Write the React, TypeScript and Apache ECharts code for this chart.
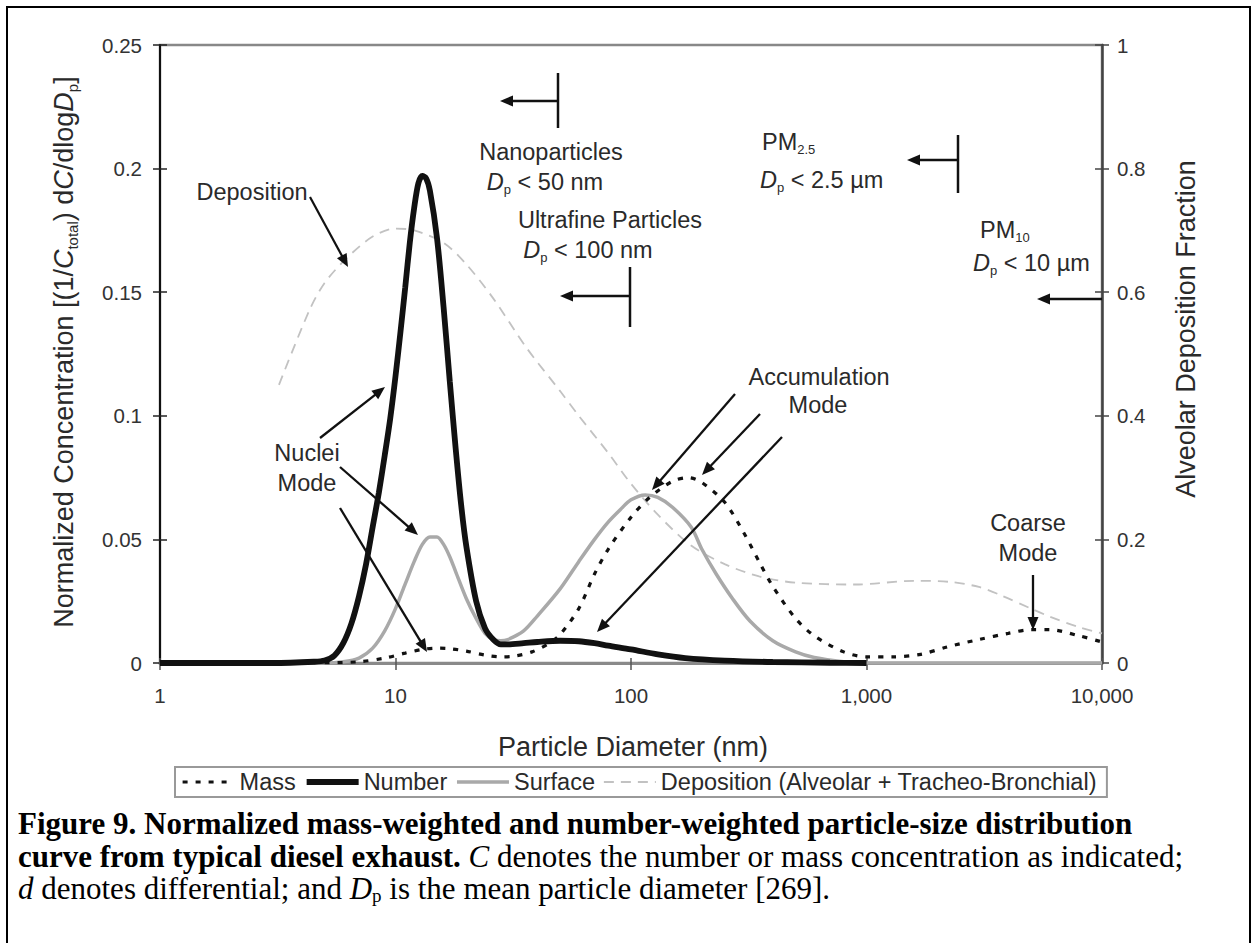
import React, { useEffect, useRef } from "react";
import * as echarts from "echarts";

// ---------- data ----------
const numberDiameter = [1, 3, 4.5, 5, 5.5, 6, 6.5, 7, 7.5, 8, 8.5, 9, 9.5, 10, 10.5, 11, 11.5, 12, 12.5, 13, 13.5, 14, 15, 16, 17, 18, 19, 20, 22, 24, 26, 28, 30, 35, 40, 50, 60, 70, 80, 100, 130, 170, 250, 400, 700, 1000];
const numberValue = [0, 0, 0.0005, 0.001, 0.003, 0.008, 0.016, 0.027, 0.04, 0.055, 0.069, 0.084, 0.099, 0.116, 0.134, 0.152, 0.17, 0.184, 0.194, 0.197, 0.196, 0.191, 0.172, 0.144, 0.114, 0.087, 0.064, 0.047, 0.025, 0.014, 0.0095, 0.0075, 0.0075, 0.008, 0.0085, 0.009, 0.0088, 0.008, 0.007, 0.0055, 0.0035, 0.002, 0.001, 0.0004, 0.0001, 0];

const surfaceDiameter = [1, 5, 6, 7, 8, 9, 10, 11, 12, 13, 14, 15, 16, 17, 18, 20, 22, 24, 26, 28, 30, 35, 40, 50, 60, 70, 80, 90, 100, 115, 130, 150, 180, 200, 230, 270, 320, 400, 500, 600, 800, 1000, 10000];
const surfaceValue = [0, 0, 0.0005, 0.002, 0.006, 0.013, 0.022, 0.032, 0.041, 0.048, 0.051, 0.051, 0.048, 0.043, 0.037, 0.026, 0.018, 0.012, 0.0095, 0.009, 0.0095, 0.013, 0.019, 0.03, 0.041, 0.05, 0.057, 0.062, 0.066, 0.068, 0.067, 0.063, 0.055, 0.046, 0.036, 0.026, 0.017, 0.009, 0.0045, 0.0022, 0.0005, 0, 0];

const massDiameter = [5, 7, 9, 11, 13, 15, 17, 20, 24, 28, 32, 38, 45, 50, 60, 70, 80, 100, 120, 150, 175, 200, 250, 300, 350, 400, 500, 600, 800, 1000, 1300, 1700, 2200, 3000, 4000, 5000, 6000, 8000, 10000];
const massValue = [0, 0.0005, 0.002, 0.004, 0.0055, 0.006, 0.0058, 0.0048, 0.0032, 0.0025, 0.0028, 0.0045, 0.008, 0.0115, 0.022, 0.036, 0.046, 0.059, 0.067, 0.0735, 0.075, 0.073, 0.065, 0.053, 0.041, 0.031, 0.018, 0.011, 0.0045, 0.0025, 0.0025, 0.0035, 0.0065, 0.0095, 0.012, 0.0135, 0.0135, 0.011, 0.0085];

const depositionDiameter = [3.2, 4.3, 5, 6.2, 8, 10, 12, 16, 20, 26, 36, 50, 60, 80, 100, 130, 180, 250, 350, 500, 900, 1600, 2300, 3000, 3700, 5000, 6000, 8000, 10000];
const depositionValue = [0.45, 0.57, 0.615, 0.655, 0.69, 0.703, 0.7, 0.68, 0.645, 0.59, 0.51, 0.44, 0.4, 0.34, 0.29, 0.24, 0.19, 0.16, 0.14, 0.13, 0.127, 0.133, 0.131, 0.123, 0.11, 0.088, 0.075, 0.058, 0.048];

const xTickValues = [1, 10, 100, 1000, 10000];
const xTickLabels = ["1", "10", "100", "1,000", "10,000"];

const seriesNames = ["Mass", "Number", "Surface", "Deposition (Alveolar + Tracheo-Bronchial)"];

// ---------- helpers ----------
const SANS = "'Liberation Sans', Arial, Helvetica, sans-serif";
const SERIF = "'Liberation Serif', 'Times New Roman', serif";
const TXT = "#2a2a2a";

const zip = (xs: number[], ys: number[]) => xs.map((x, i) => [x, ys[i]]);

const annRich = (fs: number) => ({
  n: { fontSize: fs, fontFamily: SANS, fill: TXT, lineHeight: 28 },
  i: { fontSize: fs, fontFamily: SANS, fontStyle: "italic", fill: TXT, lineHeight: 28 },
  s: { fontSize: Math.round(fs * 0.55), fontFamily: SANS, fill: TXT, verticalAlign: "bottom", lineHeight: 6 },
});

function label(x: number, y: number, text: string, align = "center", fs = 23.5) {
  return {
    type: "text",
    x,
    y,
    z: 100,
    style: {
      text,
      rich: annRich(fs),
      align,
      verticalAlign: "middle",
      fill: TXT,
    },
  };
}

function arrow(x1: number, y1: number, x2: number, y2: number, w = 2.3) {
  const a = Math.atan2(y2 - y1, x2 - x1);
  const head = 13;
  const hw = 5.5;
  const bx = x2 - head * Math.cos(a);
  const by = y2 - head * Math.sin(a);
  const px = -Math.sin(a) * hw;
  const py = Math.cos(a) * hw;
  return [
    { type: "line", z: 100, shape: { x1, y1, x2: bx + Math.cos(a) * 2, y2: by + Math.sin(a) * 2 }, style: { stroke: "#111", lineWidth: w } },
    {
      type: "polygon",
      z: 100,
      shape: { points: [[x2, y2], [bx + px, by + py], [bx - px, by - py]] },
      style: { fill: "#111" },
    },
  ];
}

function bar(x: number, y1: number, y2: number) {
  return { type: "line", z: 100, shape: { x1: x, y1, x2: x, y2 }, style: { stroke: "#111", lineWidth: 2.5 } };
}

export default function App() {
  const ref = useRef<HTMLDivElement>(null);

  useEffect(() => {
    if (!ref.current) return;
    const chart = echarts.init(ref.current, undefined, { renderer: "svg" });

    const xLabelFmt = (v: number) => {
      const idx = xTickValues.findIndex((t) => Math.abs(t - v) / t < 1e-6);
      return idx >= 0 ? xTickLabels[idx] : "";
    };

    const tickLabel = { fontSize: 20.5, fontFamily: SANS, color: "#333" };

    const CF = 31;
    const capRich = {
      b: { fontSize: CF, fontFamily: SERIF, fontWeight: "bold", fill: "#000", lineHeight: 34 },
      n: { fontSize: CF, fontFamily: SERIF, fill: "#000", lineHeight: 34 },
      i: { fontSize: CF, fontFamily: SERIF, fontStyle: "italic", fill: "#000", lineHeight: 34 },
      s: { fontSize: 19, fontFamily: SERIF, fill: "#000", verticalAlign: "bottom", lineHeight: 9 },
    };

    const titleRich = {
      n: { fontSize: 27, fontFamily: SANS, fill: TXT, lineHeight: 32 },
      i: { fontSize: 27, fontFamily: SANS, fontStyle: "italic", fill: TXT, lineHeight: 32 },
      s: { fontSize: 15, fontFamily: SANS, fill: TXT, verticalAlign: "bottom", lineHeight: 8 },
    };

    const elements: any[] = [
      // outer frame
      { type: "rect", z: 100, shape: { x: 7, y: 7, width: 1243, height: 1000 }, style: { fill: "none", stroke: "#000", lineWidth: 2 } },
      // axis titles
      {
        type: "text",
        z: 100,
        x: 64,
        y: 352,
        rotation: Math.PI / 2,
        style: {
          text: "{n|Normalized Concentration [(1/}{i|C}{s|total}{n|) d}{i|C}{n|/dlog}{i|D}{s|p}{n|]}",
          rich: titleRich,
          align: "center",
          verticalAlign: "middle",
        },
      },
      {
        type: "text",
        z: 100,
        x: 1186,
        y: 329,
        rotation: Math.PI / 2,
        style: { text: "{n|Alveolar Deposition Fraction}", rich: titleRich, align: "center", verticalAlign: "middle" },
      },
      {
        type: "text",
        z: 100,
        x: 633,
        y: 747,
        style: { text: "{n|Particle Diameter (nm)}", rich: titleRich, align: "center", verticalAlign: "middle" },
      },
      // annotations
      label(252, 192, "{n|Deposition}"),
      ...arrow(310, 197, 348, 267, 2.2),
      label(307, 453, "{n|Nuclei}"),
      label(307, 483, "{n|Mode}"),
      ...arrow(320, 438, 385, 387),
      ...arrow(340, 467, 418, 535),
      ...arrow(340, 508, 427, 652),
      label(551, 152, "{n|Nanoparticles}"),
      label(545, 182, "{i|D}{s|p}{n| < 50 nm}"),
      bar(558, 73, 128),
      ...arrow(558, 101, 500, 101),
      label(610, 220, "{n|Ultrafine Particles}"),
      label(588, 250, "{i|D}{s|p}{n| < 100 nm}"),
      bar(630, 267, 327),
      ...arrow(630, 296, 560, 296),
      label(762, 142, "{n|PM}{s|2.5}", "left"),
      label(760, 180, "{i|D}{s|p}{n| < 2.5 µm}", "left"),
      bar(958, 135, 193),
      ...arrow(958, 160, 907, 160),
      label(980, 230, "{n|PM}{s|10}", "left"),
      label(973, 263, "{i|D}{s|p}{n| < 10 µm}", "left"),
      ...arrow(1102, 299, 1037, 299),
      label(819, 377, "{n|Accumulation}"),
      label(818, 405, "{n|Mode}"),
      ...arrow(735, 394, 652, 490),
      ...arrow(760, 414, 702, 475),
      ...arrow(782, 437, 597, 632),
      label(1028, 523, "{n|Coarse}"),
      label(1028, 553, "{n|Mode}"),
      ...arrow(1033, 575, 1033, 630),
      // caption
      {
        type: "text",
        z: 100,
        x: 18,
        y: 823,
        style: {
          text: "{b|Figure 9. Normalized mass-weighted and number-weighted particle-size distribution}",
          rich: capRich,
          align: "left",
          verticalAlign: "middle",
        },
      },
      {
        type: "text",
        z: 100,
        x: 18,
        y: 856,
        style: {
          text: "{b|curve from typical diesel exhaust.}{n| }{i|C}{n| denotes the number or mass concentration as indicated;}",
          rich: capRich,
          align: "left",
          verticalAlign: "middle",
        },
      },
      {
        type: "text",
        z: 100,
        x: 18,
        y: 888,
        style: {
          text: "{i|d}{n| denotes differential; and }{i|D}{s|p}{n| is the mean particle diameter [269].}",
          rich: capRich,
          align: "left",
          verticalAlign: "middle",
        },
      },
    ];

    const lineStyles: any = {
      Mass: { color: "#111", width: 3.2, type: [5, 8] },
      Number: { color: "#111", width: 5.8, type: "solid" },
      Surface: { color: "#a9a9a9", width: 3.5, type: "solid" },
      [seriesNames[3]]: { color: "#c2c2c2", width: 1.8, type: [10, 7] },
    };

    const mkSeries = (name: string, data: number[][], yAxisIndex: number, z: number) => ({
      name,
      type: "line",
      xAxisIndex: 0,
      yAxisIndex,
      data,
      smooth: 0.3,
      showSymbol: false,
      symbol: "none",
      z,
      lineStyle: lineStyles[name],
      itemStyle: { color: lineStyles[name].color },
      emphasis: { disabled: true },
    });

    chart.setOption({
      animation: false,
      backgroundColor: "#fff",
      grid: { left: 160, right: 154, top: 45, bottom: 280, show: true, borderColor: "#888", borderWidth: 2.5 },
      legend: {
        left: 175,
        top: 767,
        selectedMode: false,
        itemWidth: 52,
        itemHeight: 14,
        itemGap: 8,
        padding: [3, 10, 3, 6],
        borderColor: "#999",
        borderWidth: 2,
        textStyle: { fontSize: 23.5, fontFamily: SANS, color: TXT },
        data: seriesNames.map((n) => ({
          name: n,
          lineStyle: lineStyles[n],
          itemStyle: { color: lineStyles[n].color, opacity: 0, borderWidth: 0 },
        })),
      },
      xAxis: [
        {
          type: "log",
          logBase: 10,
          min: 1,
          max: 10000,
          position: "bottom",
          axisLine: { show: true, lineStyle: { color: "#8a8a8a", width: 3 } },
          axisTick: { show: true, length: 7, lineStyle: { color: "#555", width: 1.5 } },
          axisLabel: { ...tickLabel, margin: 22, formatter: xLabelFmt },
          splitLine: { show: false },
          minorTick: { show: false },
        },
        {
          type: "log",
          logBase: 10,
          min: 1,
          max: 10000,
          position: "bottom",
          axisLine: { show: false },
          axisTick: { show: true, inside: true, length: 5, lineStyle: { color: "#555", width: 1.5 } },
          axisLabel: { show: false },
          splitLine: { show: false },
        },
      ],
      yAxis: [
        {
          type: "value",
          min: 0,
          max: 0.25,
          interval: 0.05,
          position: "left",
          axisLine: { show: true, lineStyle: { color: "#111", width: 2 } },
          axisTick: { show: true, length: 7, lineStyle: { color: "#222", width: 1.5 } },
          axisLabel: { ...tickLabel, margin: 18 },
          splitLine: { show: false },
        },
        {
          type: "value",
          min: 0,
          max: 1,
          interval: 0.2,
          position: "right",
          axisLine: { show: true, lineStyle: { color: "#444", width: 2.5 } },
          axisTick: { show: true, length: 7, lineStyle: { color: "#444", width: 1.5 } },
          axisLabel: { ...tickLabel, margin: 15 },
          splitLine: { show: false },
        },
        {
          type: "value",
          min: 0,
          max: 0.25,
          interval: 0.05,
          position: "left",
          axisLine: { show: false },
          axisTick: { show: true, inside: true, length: 7, lineStyle: { color: "#222", width: 1.5 } },
          axisLabel: { show: false },
          splitLine: { show: false },
        },
        {
          type: "value",
          min: 0,
          max: 1,
          interval: 0.2,
          position: "right",
          axisLine: { show: false },
          axisTick: { show: true, inside: true, length: 7, lineStyle: { color: "#444", width: 1.5 } },
          axisLabel: { show: false },
          splitLine: { show: false },
        },
      ],
      series: [
        mkSeries(seriesNames[3], zip(depositionDiameter, depositionValue), 1, 2),
        mkSeries("Surface", zip(surfaceDiameter, surfaceValue), 0, 3),
        mkSeries("Number", zip(numberDiameter, numberValue), 0, 4),
        mkSeries("Mass", zip(massDiameter, massValue), 0, 5),
      ],
      graphic: { elements },
    });

    return () => chart.dispose();
  }, []);

  return (
    <div
      ref={ref}
      style={{ position: "absolute", left: 0, top: 0, width: 1256, height: 943, background: "#fff" }}
    />
  );
}
